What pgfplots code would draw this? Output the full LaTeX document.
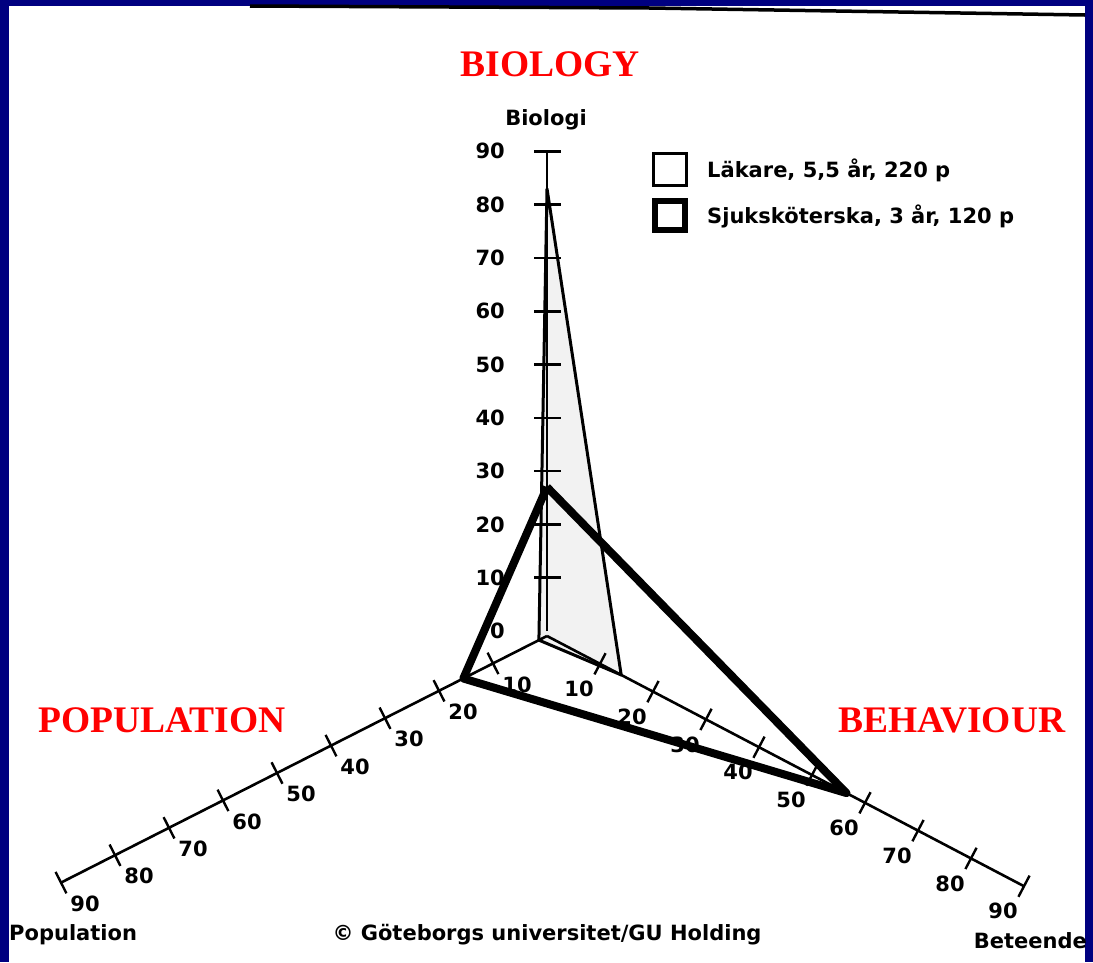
\documentclass[border=0pt]{standalone}
\usepackage{pgfplots}
\pgfplotsset{compat=1.18}
\usepackage{pgfplotstable}
\usepackage{fontspec}
\setmainfont{DejaVu Sans}
\newfontfamily\titlefont{Liberation Serif}
\definecolor{navyb}{RGB}{0,0,128}
\definecolor{titlered}{RGB}{255,0,0}
\newcommand\cf{\fontsize{21}{25}\selectfont\bfseries}

% axis origins (pixel frame) and pixels per unit along each axis
\def\bx{547}\def\by{631}\def\bdy{-5.33}
\def\px{547}\def\py{636}\def\pdx{-5.4}\def\pdy{2.74}
\def\ex{547}\def\ey{636}\def\edx{5.3}\def\edy{2.78}

% Läkare, 5,5 år, 220 p
\pgfplotstableread{
axis v ox oy dx dy
Biologi 83 547 631 0 -5.33
Population 1.5 547 636 -5.4 2.74
Beteende 14 547 636 5.3 2.78
Biologi 83 547 631 0 -5.33
}\lakare

% Sjuksköterska, 3 år, 120 p
\pgfplotstableread{
axis v ox oy dx dy
Biologi 27 547 631 0 -5.33
Population 15.5 547 636 -5.4 2.74
Beteende 56.5 547 636 5.3 2.78
Biologi 27 547 631 0 -5.33
}\sjuk

\pgfplotstableread{
v lab
10 10
20 20
30 30
40 40
50 50
60 60
70 70
80 80
90 90
}\ticktab

\pgfplotstableread{
v lab
0 0
10 10
20 20
30 30
40 40
50 50
60 60
70 70
80 80
90 90
}\biotab

\pgfplotstableread{
v lab
0 0
90 90
}\axends

\begin{document}
\begin{tikzpicture}
\fill[navyb] (0,0) rectangle (1093pt,962pt);
\fill[white] (9pt,0) rectangle (1085pt,956pt);
\begin{axis}[at={(0,0)}, anchor=south west, scale only axis,
  width=1093pt, height=962pt, xmin=0, xmax=1093, ymin=0, ymax=962,
  y dir=reverse, hide axis, clip=false]

% scanned page edge
\draw[black, line width=3.5pt] (axis cs:250,6) -- (axis cs:650,8) -- (axis cs:1085,15);

% Läkare polygon
\addplot[black, line width=3pt, fill=black!5, line join=round]
  table[x expr=\thisrow{ox}+\thisrow{v}*\thisrow{dx}, y expr=\thisrow{oy}+\thisrow{v}*\thisrow{dy}] {\lakare};

% axes lines
\addplot[black, line width=2.6pt] table[x expr=\bx, y expr=\by+\bdy*\thisrow{v}] {\axends};
\addplot[black, line width=2.6pt] table[x expr=\px+\pdx*\thisrow{v}, y expr=\py+\pdy*\thisrow{v}] {\axends};
\addplot[black, line width=2.6pt] table[x expr=\ex+\edx*\thisrow{v}, y expr=\ey+\edy*\thisrow{v}] {\axends};

% tick marks
\addplot[black, only marks, mark=-, mark size=13.5pt, mark options={line width=2.6pt}]
  table[x expr=\bx, y expr=\by+\bdy*\thisrow{v}] {\ticktab};
\addplot[black, only marks, mark=|, mark size=12pt, mark options={line width=2.4pt, rotate=26.9}]
  table[x expr=\px+\pdx*\thisrow{v}, y expr=\py+\pdy*\thisrow{v}] {\ticktab};
\addplot[black, only marks, mark=|, mark size=12pt, mark options={line width=2.4pt, rotate=-27.7}]
  table[x expr=\ex+\edx*\thisrow{v}, y expr=\ey+\edy*\thisrow{v}] {\ticktab};

% tick labels
\addplot[draw=none, point meta=explicit symbolic, nodes near coords,
  every node near coord/.append style={font=\cf, anchor=east, inner sep=0pt, xshift=-42pt}]
  table[x expr=\bx, y expr=\by+\bdy*\thisrow{v}, meta=lab] {\biotab};
\addplot[draw=none, point meta=explicit symbolic, nodes near coords,
  every node near coord/.append style={font=\cf, anchor=center, inner sep=0pt, xshift=24pt, yshift=-21pt}]
  table[x expr=\px+\pdx*\thisrow{v}, y expr=\py+\pdy*\thisrow{v}, meta=lab] {\ticktab};
\addplot[draw=none, point meta=explicit symbolic, nodes near coords,
  every node near coord/.append style={font=\cf, anchor=center, inner sep=0pt, xshift=-21pt, yshift=-25pt}]
  table[x expr=\ex+\edx*\thisrow{v}, y expr=\ey+\edy*\thisrow{v}, meta=lab] {\ticktab};

% Sjuksköterska polygon
\addplot[black, line width=8pt, line join=round]
  table[x expr=\thisrow{ox}+\thisrow{v}*\thisrow{dx}, y expr=\thisrow{oy}+\thisrow{v}*\thisrow{dy}] {\sjuk};

% axis names
\node[font=\cf, inner sep=0pt] at (axis cs:546,120) {Biologi};
\node[font=\cf, inner sep=0pt, anchor=west] at (axis cs:9,935) {Population};
\node[font=\cf, inner sep=0pt, anchor=east] at (axis cs:1087,941) {Beteende};
\node[font=\cf, inner sep=0pt] at (axis cs:547,935) {© Göteborgs universitet/GU Holding};

% legend
\draw[black, line width=3pt, fill=white] (axis cs:653.5,153.5) rectangle (axis cs:686.5,185.5);
\draw[black, line width=6pt, fill=white] (axis cs:655,201) rectangle (axis cs:685,230);
\node[font=\cf, inner sep=0pt, anchor=west] at (axis cs:707,170) {Läkare, 5,5 år, 220 p};
\node[font=\cf, inner sep=0pt, anchor=west] at (axis cs:707,216) {Sjuksköterska, 3 år, 120 p};

% red titles
\node[font=\titlefont\fontsize{37.5}{40}\selectfont\bfseries, text=titlered, inner sep=0pt] at (axis cs:550,64) {BIOLOGY};
\node[font=\titlefont\fontsize{37.5}{40}\selectfont\bfseries, text=titlered, inner sep=0pt] at (axis cs:162,720) {POPULATION};
\node[font=\titlefont\fontsize{37.5}{40}\selectfont\bfseries, text=titlered, inner sep=0pt] at (axis cs:952,720) {BEHAVIOUR};
\end{axis}
\end{tikzpicture}
\end{document}
